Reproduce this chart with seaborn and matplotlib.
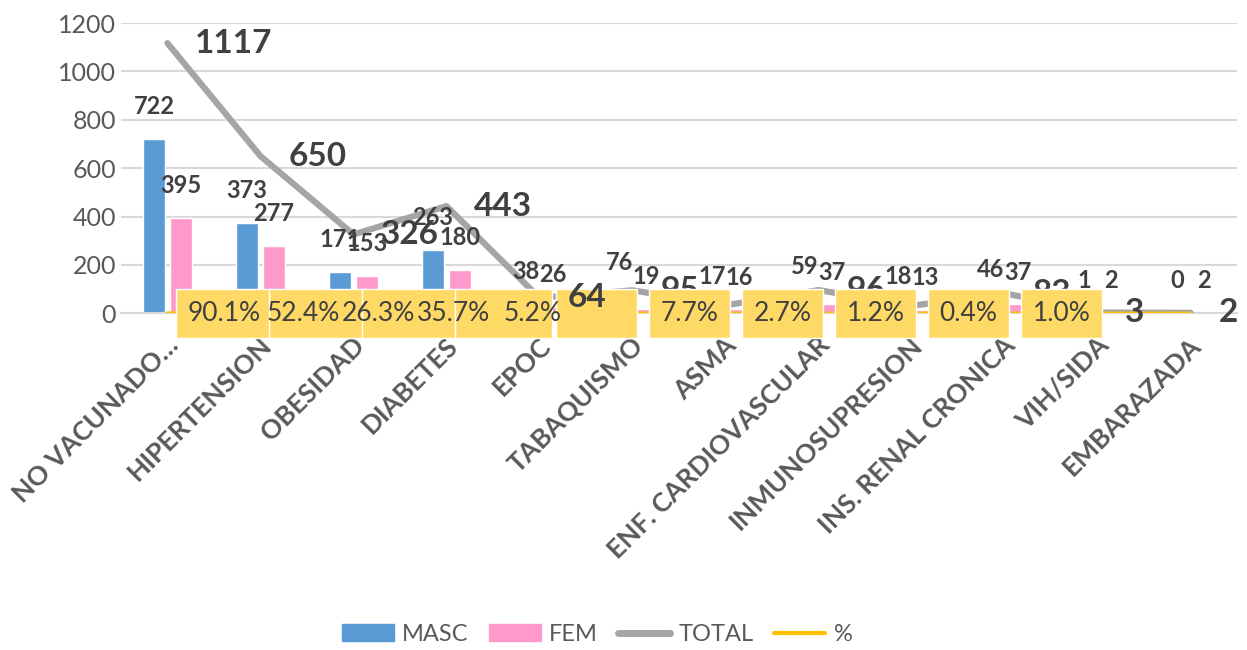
import numpy as np
import pandas as pd
import matplotlib
matplotlib.use("Agg")
import matplotlib.pyplot as plt
import matplotlib.transforms as mtransforms
import seaborn as sns
from matplotlib.patches import Patch
from matplotlib.lines import Line2D

# datos
categorias = ["NO VACUNADO…", "HIPERTENSION", "OBESIDAD", "DIABETES", "EPOC",
              "TABAQUISMO", "ASMA", "ENF. CARDIOVASCULAR", "INMUNOSUPRESION",
              "INS. RENAL CRONICA", "VIH/SIDA", "EMBARAZADA"]
masc = [722, 373, 171, 263, 38, 76, 17, 59, 18, 46, 1, 0]
fem = [395, 277, 153, 180, 26, 19, 16, 37, 13, 37, 2, 2]
total = [1117, 650, 326, 443, 64, 95, 33, 96, 31, 83, 3, 2]
pct = [90.1, 52.4, 26.3, 35.7, 5.2, 7.7, 2.7, 1.2, 0.4, 1.0, 0.2, 0.2]
pct_labels = ["90.1%", "52.4%", "26.3%", "35.7%", "5.2%", "7.7%", "2.7%",
              "1.2%", "0.4%", "1.0%", "", ""]

df = pd.DataFrame({
    "cat": categorias * 2,
    "valor": masc + fem,
    "sexo": ["MASC"] * len(categorias) + ["FEM"] * len(categorias),
})

sns.set_style("white")
plt.rcParams["font.family"] = ["Lato", "DejaVu Sans"]

c_masc = "#5B9BD5"
c_fem = "#FF99CC"
c_total = "#A5A5A5"
c_pct = "#FFC000"
c_txt = "#404040"

fig = plt.figure(figsize=(12.47, 6.5), dpi=100)
ax = fig.add_axes([0.097, 0.518, 0.895, 0.4465])

sns.barplot(data=df, x="cat", y="valor", hue="sexo", order=categorias,
            palette={"MASC": c_masc, "FEM": c_fem}, width=0.58, gap=0.18,
            saturation=1, legend=False, ax=ax, zorder=2)

x = np.arange(len(categorias))
sns.lineplot(x=x, y=total, color=c_total, linewidth=4.5, ax=ax, zorder=3, sort=False)
sns.lineplot(x=x, y=np.array(pct) / 100, color=c_pct, linewidth=2.5, ax=ax, zorder=3, sort=False)

# etiquetas de barras
for cont in ax.containers:
    ax.bar_label(cont, padding=15, fontsize=17, fontweight="bold", color=c_txt, zorder=4)

# etiquetas TOTAL
for i, v in enumerate(total):
    ax.annotate(str(v), (i, v), xytext=(20, 0), textcoords="offset points",
                ha="left", va="center", fontsize=24, fontweight="bold",
                color=c_txt, zorder=6)

# etiquetas % con caja
text_dx = [0, -10, -23, -36, -46, 0, 0, 0, 0, 0, 0, 0]
for i, lbl in enumerate(pct_labels):
    if not lbl:
        continue
    z = 5 if i == 4 else 7
    ax.annotate(lbl, (i, 0), xytext=(41, 0), textcoords="offset points",
                ha="center", va="center", fontsize=19, color="none",
                bbox=dict(boxstyle="square,pad=0.45", fc="#FFD966", ec="white", lw=1),
                zorder=z)
for i, lbl in enumerate(pct_labels):
    if not lbl:
        continue
    ax.annotate(lbl, (i, 0), xytext=(41 + text_dx[i], 0), textcoords="offset points",
                ha="center", va="center", fontsize=19, color=c_txt, zorder=8)

ax.set_ylim(0, 1200)
ax.set_xlim(-0.5, len(categorias) - 0.5)
ax.set_yticks(range(0, 1201, 200))
ax.yaxis.grid(True, color="#D9D9D9", linewidth=1.5, zorder=0)
ax.set_axisbelow(True)
for s in ["top", "right", "left"]:
    ax.spines[s].set_visible(False)
ax.spines["bottom"].set_color("#D9D9D9")
ax.spines["bottom"].set_linewidth(1.5)
ax.tick_params(axis="both", length=0, colors="#595959", labelsize=18)
ax.tick_params(axis="x", pad=0)
ax.set_xlabel("")
ax.set_ylabel("")
shift = mtransforms.ScaledTranslation(-1 / 72, -14 / 72, fig.dpi_scale_trans)
for lab in ax.get_xticklabels():
    lab.set_rotation(45)
    lab.set_ha("right")
    lab.set_va("top")
    lab.set_rotation_mode("anchor")
    lab.set_fontweight("bold")
    lab.set_fontsize(19)
    lab.set_transform(lab.get_transform() + shift)

handles = [Patch(color=c_masc, label="MASC"), Patch(color=c_fem, label="FEM"),
           Line2D([], [], color=c_total, lw=5, label="TOTAL"),
           Line2D([], [], color=c_pct, lw=3, label="%")]
leg = fig.legend(handles=handles, loc="lower center", bbox_to_anchor=(0.479, -0.025),
                 ncol=4, frameon=False, fontsize=17, handlelength=2.2,
                 handletextpad=0.35, columnspacing=0.85)
for t in leg.get_texts():
    t.set_color("#595959")

fig.savefig("out.png", dpi=100)
